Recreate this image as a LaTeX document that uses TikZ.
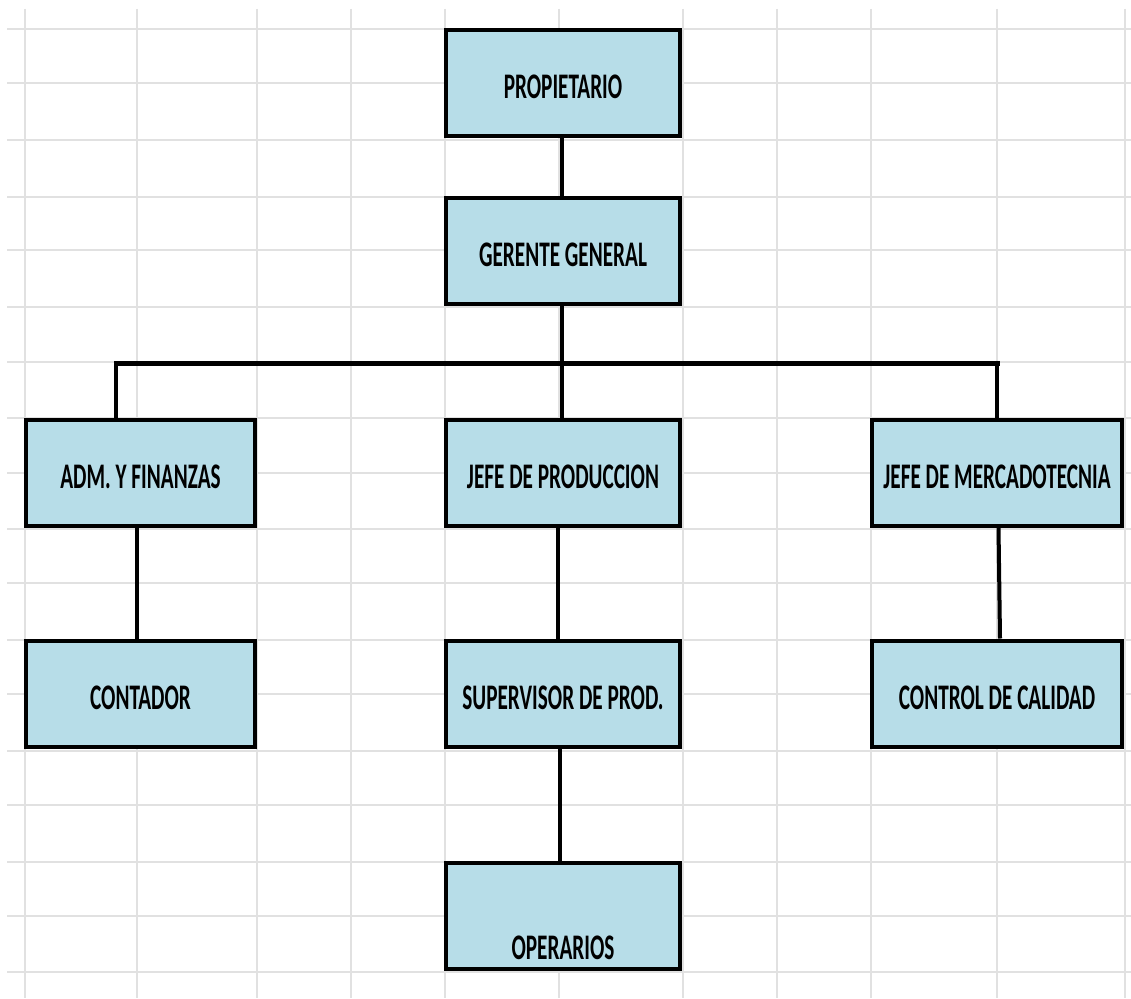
\documentclass[tikz,border=0pt]{standalone}
\usepackage{fontspec}
\newfontfamily\boxfont[FakeStretch=0.59]{Carlito}
\definecolor{cellgrid}{HTML}{E1E1E1}
\definecolor{boxfill}{HTML}{B7DDE8}
\begin{document}
\begin{tikzpicture}[x=1pt,y=-1pt,
  gridline/.style={draw=cellgrid,line width=1.6pt},
  orgbox/.style={draw=black,fill=boxfill,line width=4pt,rectangle,
    minimum height=106pt,inner sep=0pt,
    font=\boxfont\bfseries\fontsize{36}{40}\selectfont,
    text height=31pt,text depth=0pt},
  narrowbox/.style={orgbox,minimum width=229pt},
  midbox/.style={orgbox,minimum width=234pt},
  widebox/.style={orgbox,minimum width=250pt},
  link/.style={draw=black,line width=4pt},
  buslink/.style={draw=black,line width=5pt}]
\useasboundingbox (0,0) rectangle (1131,998);
\fill[white] (0,0) rectangle (1131,998);
% spreadsheet cell grid
\foreach \gy in {29,83,140,197,250,307,362,418,473,529,583,640,694,751,805,862,916,972}
  \draw[gridline] (7,\gy) -- (1131,\gy);
\foreach \gx in {25,137,257,351,445,559,683,777,871,997,1125}
  \draw[gridline] (\gx,9) -- (\gx,998);
% boxes
\node[midbox] (prop) at (563,83) {PROPIETARIO};
\node[midbox] (ger) at (563,250.5) {GERENTE GENERAL};
\node[narrowbox] (adm) at (140.5,472.5) {ADM. Y FINANZAS};
\node[midbox] (jpr) at (563,472.5) {JEFE DE PRODUCCION};
\node[widebox] (jme) at (997,472.5) {JEFE DE MERCADOTECNIA};
\node[narrowbox] (cont) at (140.5,693.5) {CONTADOR};
\node[midbox] (sup) at (563,693.5) {SUPERVISOR DE PROD.};
\node[widebox] (ccal) at (997,693.5) {CONTROL DE CALIDAD};
\node[midbox,text height=88pt] (oper) at (563,915.5) {OPERARIOS};
% bus coordinates
\coordinate (busL) at (116,363);
\coordinate (busM) at (562,363);
\coordinate (busR) at (997,363);
% connectors
\draw[link] ([xshift=-1pt]prop.south) -- ([xshift=-1pt]ger.north);
\draw[link] ([xshift=-1pt]ger.south) -- (busM);
\draw[buslink,line cap=rect] (busL) -- (busR);
\draw[link] (busL) -- (busL |- adm.north);
\draw[link] (busM) -- (busM |- jpr.north);
\draw[link] (busR) -- (busR |- jme.north);
\draw[link] ([xshift=-3.5pt]adm.south) -- ([xshift=-3.5pt]cont.north);
\draw[link] ([xshift=-5pt]jpr.south) -- ([xshift=-5pt]sup.north);
\draw[link] ([xshift=-3pt]sup.south) -- ([xshift=-3pt]oper.north);
\draw[link] ([xshift=1.5pt]jme.south) -- ([xshift=3pt]ccal.north);
\end{tikzpicture}
\end{document}
